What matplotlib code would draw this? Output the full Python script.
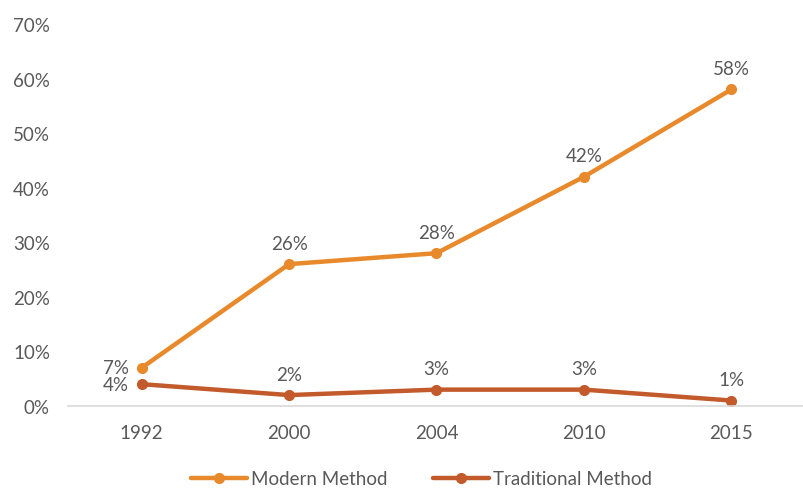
import matplotlib.pyplot as plt
from matplotlib.ticker import FuncFormatter

years = ["1992", "2000", "2004", "2010", "2015"]
modern = [7, 26, 28, 42, 58]
traditional = [4, 2, 3, 3, 1]

modern_color = "#E8892B"
trad_color = "#C35A2B"
text_color = "#595959"
fs = 13.5

plt.rcParams["font.family"] = ["Lato", "DejaVu Sans"]

fig = plt.figure(figsize=(8.04, 4.89), dpi=100)
ax = fig.add_axes([68 / 804, 1 - 407 / 489, 737 / 804, 382 / 489])

x = list(range(len(years)))
ax.plot(x, modern, color=modern_color, lw=3.2, marker="o", ms=7,
        solid_capstyle="round", label="Modern Method")
ax.plot(x, traditional, color=trad_color, lw=3.2, marker="o", ms=7,
        solid_capstyle="round", label="Traditional Method")

# value labels: above each point, except the crowded first year
for i, (m, t) in enumerate(zip(modern, traditional)):
    for v in (m, t):
        if i == 0:
            ax.annotate(f"{v}%", (i, v), xytext=(-9, 0), textcoords="offset points",
                        ha="right", va="center", fontsize=fs, color=text_color)
        else:
            ax.annotate(f"{v}%", (i, v), xytext=(0, 9), textcoords="offset points",
                        ha="center", va="bottom", fontsize=fs, color=text_color)

ax.set_xlim(-0.5, len(years) - 0.5)
ax.set_ylim(0, 70)
ax.set_yticks(range(0, 71, 10))
ax.yaxis.set_major_formatter(FuncFormatter(lambda v, p: f"{v:.0f}%"))
ax.set_xticks(x)
ax.set_xticklabels(years)
ax.tick_params(axis="both", length=0, labelsize=fs, labelcolor=text_color)
ax.tick_params(axis="x", pad=13)
ax.tick_params(axis="y", pad=13)

for side in ["top", "right", "left"]:
    ax.spines[side].set_visible(False)
ax.spines["bottom"].set_color("#D9D9D9")
ax.spines["bottom"].set_linewidth(1.2)

leg = ax.legend(loc="center", bbox_to_anchor=(0.5 - 15 / 737, -0.19), ncol=2,
                frameon=False, fontsize=fs, handlelength=3, columnspacing=2.4,
                handletextpad=0.2, borderpad=0.1)
for txt in leg.get_texts():
    txt.set_color(text_color)

fig.savefig("out.png", dpi=100)
